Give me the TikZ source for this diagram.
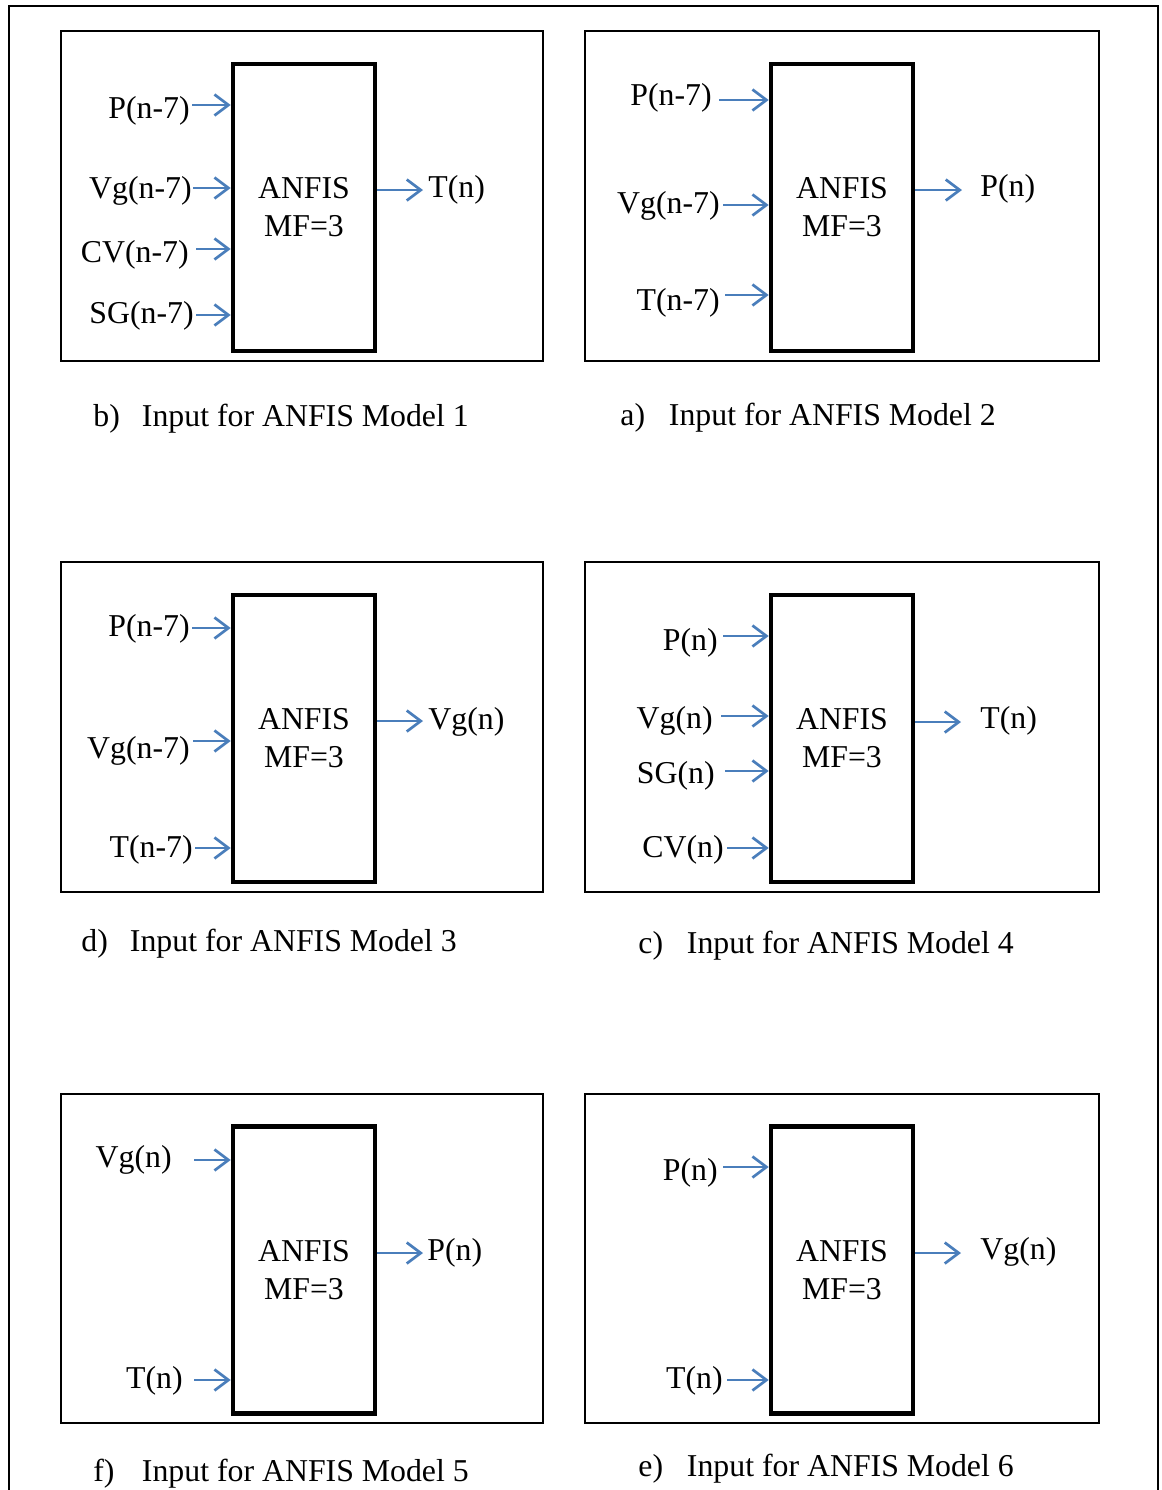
\documentclass[tikz,border=0pt]{standalone}
\usepackage{fontspec}
\setmainfont{Liberation Serif}
\usetikzlibrary{arrows.meta}

\definecolor{arrowblue}{RGB}{74,126,187}
\newcommand{\modelcap}[2]{\makebox[24.3pt][l]{#1)}Input for ANFIS Model #2}

\tikzset{
  every node/.style={font=\fontsize{15.9}{19}\selectfont},
  frame/.style={draw, line width=1pt},
  anfis/.style={draw, line width=2.3pt, minimum width=71pt, minimum height=143.5pt,
    align=center, inner sep=0pt},
  inarr/.style={draw=arrowblue, line width=1.35pt, -{Straight Barb[length=7pt,width=10.5pt]}},
  lbl/.style={inner sep=0pt, yshift=-1.5pt},
}

\begin{document}
\begin{tikzpicture}[x=0.5pt, y=-0.5pt]
    \useasboundingbox (0,0) rectangle (1162,1490);
    \draw[line width=1pt] (9,1490) -- (9,6) -- (1158,6) -- (1158,1490);

    % model 1
    \draw[frame] (61,31) rectangle (543,361);
    \node[anfis] (m1) at (304,207.5) {ANFIS\\MF=3};
    \node[lbl, anchor=east] (p1a) at (190,108) {P(n-7)};
    \node[lbl, anchor=east] (p1b) at (192,188) {Vg(n-7)};
    \node[lbl, anchor=east] (p1c) at (189,252) {CV(n-7)};
    \node[lbl, anchor=east] (p1d) at (194,313) {SG(n-7)};
    \coordinate (i1a) at (192,105);
    \coordinate (i1b) at (193,188);
    \coordinate (i1c) at (196,249);
    \coordinate (i1d) at (196,315);
    \foreach \k in {a,b,c,d}
      \draw[inarr] (i1\k) -- (i1\k -| m1.west);
    \coordinate (o1) at (423,190);
    \draw[inarr] (o1 -| m1.east) -- (o1);
    \node[lbl, anchor=west] (t1) at (428,187) {T(n)};
    \node[lbl, anchor=west] (c1) at (93,416) {\modelcap{b}{1}};

    % model 2
    \draw[frame] (585,31) rectangle (1099,361);
    \node[anfis] (m2) at (842,207.5) {ANFIS\\MF=3};
    \node[lbl, anchor=east] (p2a) at (712,95) {P(n-7)};
    \node[lbl, anchor=east] (p2b) at (720,203) {Vg(n-7)};
    \node[lbl, anchor=east] (p2c) at (720,300) {T(n-7)};
    \coordinate (i2a) at (719,100);
    \coordinate (i2b) at (723,205);
    \coordinate (i2c) at (725,295);
    \foreach \k in {a,b,c}
      \draw[inarr] (i2\k) -- (i2\k -| m2.west);
    \coordinate (o2) at (962,190);
    \draw[inarr] (o2 -| m2.east) -- (o2);
    \node[lbl, anchor=west] (t2) at (980,186) {P(n)};
    \node[lbl, anchor=west] (c2) at (620,415) {\modelcap{a}{2}};

    % model 3
    \draw[frame] (61,562) rectangle (543,892);
    \node[anfis] (m3) at (304,738.5) {ANFIS\\MF=3};
    \node[lbl, anchor=east] (p3a) at (190,626) {P(n-7)};
    \node[lbl, anchor=east] (p3b) at (190,748) {Vg(n-7)};
    \node[lbl, anchor=east] (p3c) at (193,847) {T(n-7)};
    \coordinate (i3a) at (192,628);
    \coordinate (i3b) at (193,741);
    \coordinate (i3c) at (195,848);
    \foreach \k in {a,b,c}
      \draw[inarr] (i3\k) -- (i3\k -| m3.west);
    \coordinate (o3) at (423,721);
    \draw[inarr] (o3 -| m3.east) -- (o3);
    \node[lbl, anchor=west] (t3) at (428,719) {Vg(n)};
    \node[lbl, anchor=west] (c3) at (81,941) {\modelcap{d}{3}};

    % model 4
    \draw[frame] (585,562) rectangle (1099,892);
    \node[anfis] (m4) at (842,738.5) {ANFIS\\MF=3};
    \node[lbl, anchor=east] (p4a) at (718,640) {P(n)};
    \node[lbl, anchor=east] (p4b) at (713,718) {Vg(n)};
    \node[lbl, anchor=east] (p4c) at (715,773) {SG(n)};
    \node[lbl, anchor=east] (p4d) at (724,847) {CV(n)};
    \coordinate (i4a) at (723,636);
    \coordinate (i4b) at (721,716);
    \coordinate (i4c) at (725,771);
    \coordinate (i4d) at (727,848);
    \foreach \k in {a,b,c,d}
      \draw[inarr] (i4\k) -- (i4\k -| m4.west);
    \coordinate (o4) at (961,722);
    \draw[inarr] (o4 -| m4.east) -- (o4);
    \node[lbl, anchor=west] (t4) at (980,718) {T(n)};
    \node[lbl, anchor=west] (c4) at (638,943) {\modelcap{c}{4}};

    % model 5
    \draw[frame] (61,1094) rectangle (543,1423);
    \node[anfis] (m5) at (304,1270) {ANFIS\\MF=3};
    \node[lbl, anchor=east] (p5a) at (172,1157) {Vg(n)};
    \node[lbl, anchor=east] (p5b) at (183,1378) {T(n)};
    \coordinate (i5a) at (194,1160);
    \coordinate (i5b) at (194,1380);
    \foreach \k in {a,b}
      \draw[inarr] (i5\k) -- (i5\k -| m5.west);
    \coordinate (o5) at (423,1253);
    \draw[inarr] (o5 -| m5.east) -- (o5);
    \node[lbl, anchor=west] (t5) at (427,1250) {P(n)};
    \node[lbl, anchor=west] (c5) at (93,1471) {\modelcap{f}{5}};

    % model 6
    \draw[frame] (585,1094) rectangle (1099,1423);
    \node[anfis] (m6) at (842,1270) {ANFIS\\MF=3};
    \node[lbl, anchor=east] (p6a) at (718,1170) {P(n)};
    \node[lbl, anchor=east] (p6b) at (723,1378) {T(n)};
    \coordinate (i6a) at (723,1167);
    \coordinate (i6b) at (727,1380);
    \foreach \k in {a,b}
      \draw[inarr] (i6\k) -- (i6\k -| m6.west);
    \coordinate (o6) at (961,1253);
    \draw[inarr] (o6 -| m6.east) -- (o6);
    \node[lbl, anchor=west] (t6) at (980,1249) {Vg(n)};
    \node[lbl, anchor=west] (c6) at (638,1466) {\modelcap{e}{6}};
\end{tikzpicture}
\end{document}
